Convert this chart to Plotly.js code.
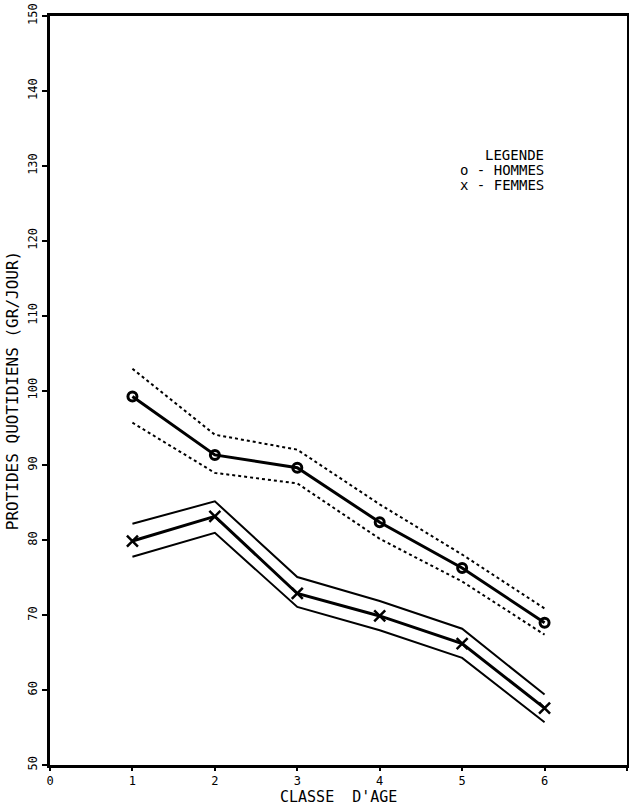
<!DOCTYPE html>
<html>
<head>
<meta charset="utf-8">
<script src="https://cdn.plot.ly/plotly-3.0.1.min.js"></script>
<style>html,body{margin:0;padding:0;background:#fff;}#chart{width:629px;height:807px;}</style>
</head>
<body>
<div id="chart"></div>
<script>
const ageClasses = [1, 2, 3, 4, 5, 6];
const hommesMean  = [99.2, 91.4, 89.7, 82.4, 76.3, 69.0];
const hommesUpper = [102.9, 94.1, 92.1, 84.8, 78.1, 70.9];
const hommesLower = [95.7, 89.0, 87.6, 80.2, 74.5, 67.4];
const femmesMean  = [79.9, 83.2, 72.9, 69.9, 66.2, 57.6];
const femmesUpper = [82.2, 85.2, 75.1, 71.9, 68.2, 59.4];
const femmesLower = [77.8, 81.0, 71.1, 68.0, 64.3, 55.7];
const xTicks = [0, 1, 2, 3, 4, 5, 6, 7];
const yTicks = [50, 60, 70, 80, 90, 100, 110, 120, 130, 140, 150];
const legendLines = ['LEGENDE', 'o - HOMMES', 'x - FEMMES'];
const xTitle = "CLASSE  D'AGE";
const yTitle = 'PROTIDES QUOTIDIENS (GR/JOUR)';

const FONT = 'DejaVu Sans Mono, Liberation Mono, monospace';

const traces = [
  {x: ageClasses, y: hommesUpper, mode: 'lines', line: {color: '#000', width: 2, dash: 'dot'}},
  {x: ageClasses, y: hommesLower, mode: 'lines', line: {color: '#000', width: 2, dash: 'dot'}},
  {x: ageClasses, y: hommesMean, mode: 'lines+markers', line: {color: '#000', width: 3},
   marker: {symbol: 'circle-open', size: 9, color: '#000', line: {width: 3, color: '#000'}}},
  {x: ageClasses, y: femmesUpper, mode: 'lines', line: {color: '#000', width: 2}},
  {x: ageClasses, y: femmesLower, mode: 'lines', line: {color: '#000', width: 2}},
  {x: ageClasses, y: femmesMean, mode: 'lines+markers', line: {color: '#000', width: 3},
   marker: {symbol: 'x-thin-open', size: 11, color: '#000', line: {width: 2.5, color: '#000'}}}
];

const layout = {
  width: 629, height: 807,
  margin: {l: 50, r: 2, t: 16, b: 42},
  paper_bgcolor: '#fff', plot_bgcolor: '#fff',
  showlegend: false,
  font: {family: FONT, color: '#000', size: 12},
  xaxis: {
    range: [0, 7], tickvals: xTicks, ticktext: xTicks.map(String),
    showgrid: false, zeroline: false, showline: true, mirror: true,
    linecolor: '#000', linewidth: 3, ticks: 'outside', ticklen: 3, tickwidth: 2, tickcolor: '#000',
    tickfont: {family: FONT, size: 12, color: '#000'}
  },
  yaxis: {
    range: [50, 150], tickvals: yTicks, ticktext: yTicks.map(String),
    showgrid: false, zeroline: false, showline: true, mirror: true,
    linecolor: '#000', linewidth: 3, ticks: 'outside', ticklen: 5, tickwidth: 2, tickcolor: '#000',
    tickangle: -90,
    tickfont: {family: FONT, size: 12, color: '#000'},
    title: {text: yTitle, font: {family: FONT, size: 16, color: '#000'}, standoff: 4}
  },
  annotations: [
    {xref: 'paper', yref: 'paper', x: 0.5, y: -0.043, xanchor: 'center', yanchor: 'middle', showarrow: false,
     text: xTitle, font: {family: FONT, size: 15, color: '#000'}},
    {xref: 'x', yref: 'y', x: 5.25, y: 131.5, xanchor: 'left', yanchor: 'middle', showarrow: false,
     text: legendLines[0], font: {family: FONT, size: 14, color: '#000'}},
    {xref: 'x', yref: 'y', x: 4.95, y: 129.5, xanchor: 'left', yanchor: 'middle', showarrow: false,
     text: legendLines[1], font: {family: FONT, size: 14, color: '#000'}},
    {xref: 'x', yref: 'y', x: 4.95, y: 127.5, xanchor: 'left', yanchor: 'middle', showarrow: false,
     text: legendLines[2], font: {family: FONT, size: 14, color: '#000'}}
  ]
};

Plotly.newPlot('chart', traces, layout, {displayModeBar: false, staticPlot: true});
</script>
</body>
</html>
